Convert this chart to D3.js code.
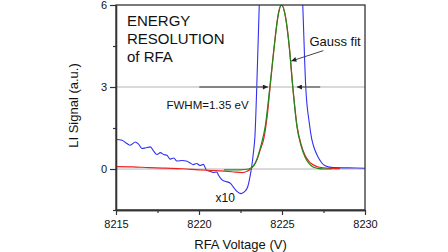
<!DOCTYPE html>
<html>
<head>
<meta charset="utf-8">
<script src="https://cdn.jsdelivr.net/npm/d3@7"></script>
<style>
  body { margin: 0; background: #fff; }
  text { font-family: "Liberation Sans", Arial, sans-serif; fill: #111; }
</style>
</head>
<body>
<div id="chart"></div>
<script>
// measured LI signal, x10 (blue)
const blueV = [8215.0, 8215.36, 8215.66, 8215.86, 8216.16, 8216.37, 8216.57, 8216.77, 8217.07, 8217.27,
  8217.47, 8217.67, 8217.87, 8218.07, 8218.27, 8218.48, 8218.67, 8218.98, 8219.28, 8219.46,
  8219.66, 8219.86, 8220.06, 8220.26, 8220.46, 8220.66, 8220.86, 8221.07, 8221.16, 8221.37,
  8221.57, 8221.87, 8222.07, 8222.27, 8222.53, 8222.73, 8222.93, 8223.07, 8223.17, 8223.27,
  8223.37, 8223.48, 8223.63, 8223.75, 8226.12, 8226.25, 8226.43, 8226.64, 8226.79, 8226.95,
  8227.19, 8227.4, 8227.6, 8228.1, 8229, 8230];
const blueS = [1.08, 1.05, 0.93, 0.87, 0.99, 0.90, 0.75, 0.77, 0.81, 0.65,
  0.53, 0.60, 0.53, 0.50, 0.36, 0.40, 0.29, 0.31, 0.28, 0.22,
  0.16, 0.20, 0.13, 0.17, -0.05, -0.08, -0.13, -0.11, -0.21, -0.39,
  -0.45, -0.51, -0.66, -0.81, -0.90, -0.84, -0.66, -0.29, 0.07, 0.56,
  1.2, 3.0, 6.0, 8, 8, 6.0, 3.0, 1.7, 1.1, 0.75,
  0.42, 0.22, 0.12, 0.05, 0.04, 0.03];

// measured LI signal (red)
const redV = [8215, 8216, 8217, 8218, 8219, 8220, 8221, 8222, 8222.6, 8222.9,
  8223.1, 8223.3, 8223.5, 8223.7, 8223.9, 8224.1, 8224.3, 8224.55, 8224.8, 8224.97,
  8225.2, 8225.45, 8225.65, 8225.9, 8226.15, 8226.4, 8226.6, 8226.8, 8227.1, 8227.5,
  8228, 8228.5];
const redS = [0.09, 0.08, 0.05, 0.03, 0.01, -0.03, -0.06, -0.1, -0.13, -0.08,
  0.0, 0.13, 0.35, 0.72, 1.1, 1.9, 3.1, 4.6, 5.75, 6.0,
  5.6, 4.4, 3.0, 1.6, 0.9, 0.48, 0.3, 0.18, 0.09, 0.04,
  0.02, 0.01];

// Gauss fit (green)
const fitV = [8221.5, 8222.5, 8223.0, 8223.3, 8223.5, 8223.75, 8224.0, 8224.25, 8224.5, 8224.75,
  8224.97, 8225.2, 8225.45, 8225.65, 8225.9, 8226.15, 8226.4, 8226.6, 8226.8, 8227.1,
  8227.5, 8228];
const fitS = [-0.03, -0.03, 0.0, 0.12, 0.38, 0.9, 1.6, 2.9, 4.3, 5.55,
  6.0, 5.6, 4.4, 3.0, 1.55, 0.85, 0.42, 0.22, 0.1, 0.03,
  0.0, 0.0];

const xTicks = [8215, 8220, 8225, 8230];
const xMinor = [8217.5, 8222.5, 8227.5];
const yTicks = [0, 3, 6];
const yMinor = [-1.5, 1.5, 4.5];
const gridLines = [0, 3];

const W = 448, H = 252;
const margin = {top: 5, right: 83, bottom: 42, left: 116};
const width = W - margin.left - margin.right,
      height = H - margin.top - margin.bottom;

const x = d3.scaleLinear().domain([8215, 8230]).range([0, width]);
const y = d3.scaleLinear().domain([-1.5, 6]).range([height, 0]);

const root = d3.select('#chart').append('svg')
  .attr('width', W).attr('height', H);

const defs = root.append('defs');
defs.append('clipPath').attr('id', 'clip')
  .append('rect').attr('width', width).attr('height', height);
defs.append('marker')
  .attr('id', 'head')
  .attr('viewBox', '0 0 10 10')
  .attr('refX', 10).attr('refY', 5)
  .attr('markerWidth', 7).attr('markerHeight', 5)
  .attr('markerUnits', 'userSpaceOnUse')
  .attr('orient', 'auto')
  .append('path').attr('d', 'M0,0L10,5L0,10z').attr('fill', '#222');

const svg = root.append('g')
  .attr('transform', `translate(${margin.left},${margin.top})`);

// grid lines at 0 and 3
svg.selectAll('.grid').data(gridLines).enter().append('line')
  .attr('x1', 0).attr('x2', width)
  .attr('y1', d => y(d)).attr('y2', d => y(d))
  .attr('stroke', '#b4b4b4').attr('stroke-width', 1);

const plot = svg.append('g').attr('clip-path', 'url(#clip)');

function series(vs, ss) {
  return vs.map((v, i) => [v, ss[i]]);
}
const line = d3.line().x(d => x(d[0])).y(d => y(d[1])).curve(d3.curveMonotoneX);

plot.append('path').datum(series(blueV, blueS))
  .attr('d', line).attr('fill', 'none').attr('stroke', '#3030f0').attr('stroke-width', 1.1);
plot.append('path').datum(series(redV, redS))
  .attr('d', line).attr('fill', 'none').attr('stroke', '#f02020').attr('stroke-width', 1.2);
plot.append('path').datum(series(fitV, fitS))
  .attr('d', line).attr('fill', 'none').attr('stroke', '#1e8a1e').attr('stroke-width', 1.2);

// frame
svg.append('rect')
  .attr('width', width).attr('height', height)
  .attr('fill', 'none').attr('stroke', '#333').attr('stroke-width', 1.3);

// axes
svg.append('g').attr('transform', `translate(0,${height})`)
  .call(d3.axisBottom(x).tickValues(xTicks).tickSize(5).tickSizeOuter(0).tickPadding(5).tickFormat(d3.format('d')));
svg.append('g').attr('transform', `translate(0,${height})`)
  .call(d3.axisBottom(x).tickValues(xMinor).tickSize(3).tickSizeOuter(0).tickFormat(''));
svg.append('g')
  .call(d3.axisLeft(y).tickValues(yTicks).tickSize(6).tickSizeOuter(0).tickPadding(3));
svg.append('g')
  .call(d3.axisLeft(y).tickValues(yMinor).tickSize(3).tickSizeOuter(0).tickFormat(''));

svg.selectAll('.domain').attr('stroke', '#333').attr('stroke-width', 1.3);
svg.selectAll('.tick line').attr('stroke', '#333').attr('stroke-width', 1.2);
svg.selectAll('.tick text')
  .attr('font-family', '"Liberation Sans", Arial, sans-serif')
  .attr('font-size', 11).attr('fill', '#111');

// axis titles
svg.append('text')
  .attr('x', width / 2).attr('y', height + 39)
  .attr('text-anchor', 'middle').attr('font-size', 13)
  .text('RFA Voltage (V)');
svg.append('text')
  .attr('transform', `translate(${-38},${height / 2 - 2}) rotate(-90)`)
  .attr('text-anchor', 'middle').attr('font-size', 13)
  .text('LI Signal (a.u.)');

// title block
const title = svg.append('text').attr('x', 11).attr('y', 21).attr('font-size', 15);
['ENERGY', 'RESOLUTION', 'of RFA'].forEach((t, i) => {
  title.append('tspan').attr('x', 11).attr('dy', i ? 18 : 0).text(t);
});

// Gauss fit label and arrow
svg.append('text').attr('x', x(8226.65)).attr('y', 41).attr('font-size', 13).text('Gauss fit');
svg.append('line')
  .attr('x1', x(8227.49)).attr('y1', y(4.33))
  .attr('x2', x(8225.56)).attr('y2', y(3.95))
  .attr('stroke', '#444').attr('stroke-width', 1)
  .attr('marker-end', 'url(#head)');

// FWHM arrows
svg.append('line')
  .attr('x1', x(8220.02)).attr('y1', y(3)).attr('x2', x(8224.15)).attr('y2', y(3))
  .attr('stroke', '#666').attr('stroke-width', 1.6)
  .attr('marker-end', 'url(#head)');
svg.append('line')
  .attr('x1', x(8227.3)).attr('y1', y(3)).attr('x2', x(8225.9)).attr('y2', y(3))
  .attr('stroke', '#555').attr('stroke-width', 1.2)
  .attr('marker-end', 'url(#head)');
svg.append('text').attr('x', x(8218.04)).attr('y', 104).attr('font-size', 11.5).text('FWHM=1.35 eV');

svg.append('text').attr('x', x(8221.0)).attr('y', 197).attr('font-size', 12).text('x10');
</script>
</body>
</html>
